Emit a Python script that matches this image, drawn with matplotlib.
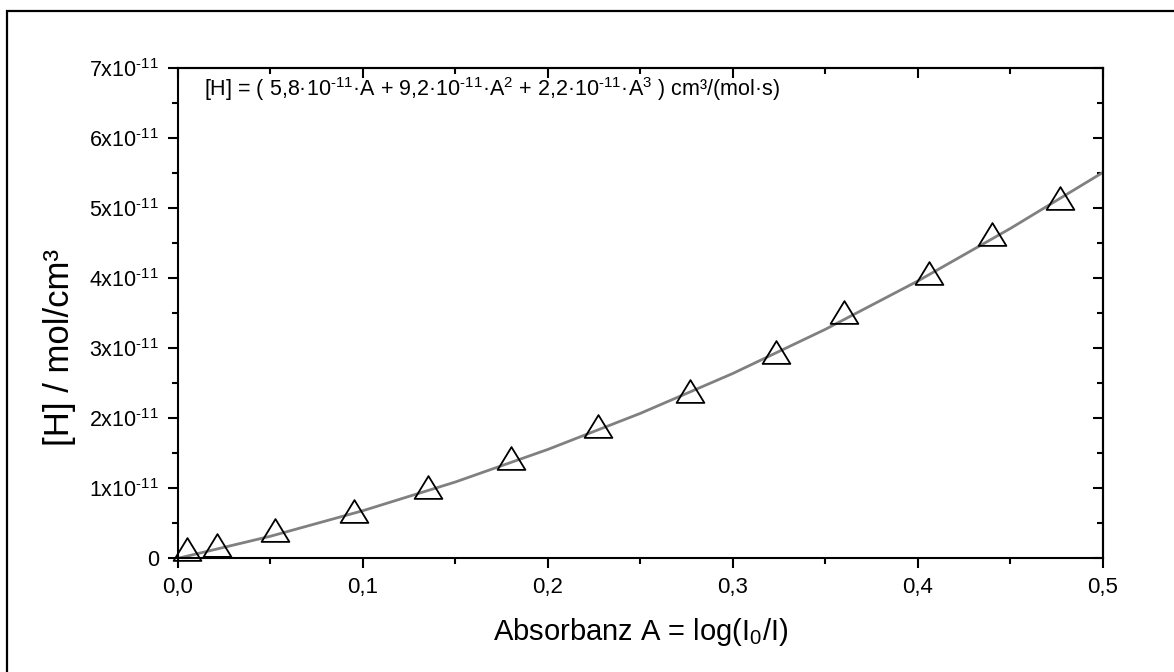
import matplotlib.pyplot as plt
import matplotlib.patches as mpatches
from matplotlib.path import Path
from matplotlib.ticker import FixedLocator, MultipleLocator, FuncFormatter

plt.rcParams['font.family'] = ['Liberation Sans', 'DejaVu Sans']
plt.rcParams['mathtext.fontset'] = 'custom'
plt.rcParams['mathtext.rm'] = 'Liberation Sans'
plt.rcParams['mathtext.it'] = 'Liberation Sans'
plt.rcParams['mathtext.default'] = 'regular'

# Messpunkte (Absorbanz, [H] in 1e-11 mol/cm3)
absorbanz = [0.0047, 0.021, 0.0527, 0.095, 0.135, 0.180, 0.227, 0.277,
             0.323, 0.360, 0.406, 0.440, 0.477]
h_konz = [0.126, 0.194, 0.397, 0.669, 1.02, 1.437, 1.887, 2.387,
          2.943, 3.511, 4.073, 4.626, 5.15]

# Fitkurve
fit_a = [0.0, 0.05, 0.10, 0.15, 0.20, 0.25, 0.30, 0.35, 0.40, 0.45, 0.50]
fit_h = [0.0, 0.315, 0.68, 1.09, 1.555, 2.07, 2.64, 3.27, 3.96, 4.71, 5.51]

skala = 1e-11
y_ticks = [0, 1, 2, 3, 4, 5, 6, 7]
x_ticks = [0.0, 0.1, 0.2, 0.3, 0.4, 0.5]

fig = plt.figure(figsize=(11.74, 6.72), dpi=100)
ax = fig.add_axes([0.1516, 0.1692, 0.7879, 0.7296])

# Rahmen um die ganze Grafik (rechts/unten abgeschnitten)
fig.patches.append(mpatches.Rectangle((7 / 1174, -0.1), 1.2, 1 - 11 / 672 + 0.1,
                                      transform=fig.transFigure, fill=False,
                                      lw=1.6, ec='black', zorder=0))

tri = Path([(0, 0.82), (-1, -0.82), (1, -0.82), (0, 0.82)],
           [Path.MOVETO, Path.LINETO, Path.LINETO, Path.CLOSEPOLY])

ax.plot(fit_a, [h * skala for h in fit_h], color='#808080', lw=2.0, zorder=2)
ax.plot(absorbanz, [h * skala for h in h_konz], ls='none', marker=tri, ms=20,
        mfc='none', mec='black', mew=1.3, zorder=3, clip_on=False)

ax.set_xlim(0, 0.5)
ax.set_ylim(0, 7 * skala)

ax.xaxis.set_major_locator(FixedLocator(x_ticks))
ax.xaxis.set_minor_locator(MultipleLocator(0.05))
ax.xaxis.set_major_formatter(FuncFormatter(lambda v, p: f'{v:.1f}'.replace('.', ',')))
ax.yaxis.set_major_locator(FixedLocator([t * skala for t in y_ticks]))
ax.yaxis.set_minor_locator(MultipleLocator(0.5 * skala))


def y_fmt(v, p):
    n = int(round(v / skala))
    return '0' if n == 0 else f'{n}x10$^{{\\text{{-11}}}}$'


ax.yaxis.set_major_formatter(FuncFormatter(y_fmt))

ax.tick_params(which='both', direction='out', width=1.5)
ax.tick_params(axis='x', labelsize=16)
ax.tick_params(axis='y', labelsize=15.5)
ax.tick_params(which='major', length=7.5, pad=6)
ax.tick_params(which='minor', length=4)
for s in ax.spines.values():
    s.set_linewidth(1.5)

# Ticks oben/rechts nach innen
top = ax.secondary_xaxis('top')
top.xaxis.set_major_locator(FixedLocator(x_ticks))
top.xaxis.set_minor_locator(MultipleLocator(0.05))
top.tick_params(which='both', direction='in', width=1.5, labeltop=False)
top.tick_params(which='major', length=7.5)
top.tick_params(which='minor', length=4)
top.spines['top'].set_linewidth(1.5)
right = ax.secondary_yaxis('right')
right.yaxis.set_major_locator(FixedLocator([t * skala for t in y_ticks]))
right.yaxis.set_minor_locator(MultipleLocator(0.5 * skala))
right.tick_params(which='both', direction='in', width=1.5, labelright=False)
right.tick_params(which='major', length=7.5)
right.tick_params(which='minor', length=4)
right.spines['right'].set_linewidth(1.5)

ax.set_xlabel('Absorbanz A = log(I$_0$/I)', fontsize=21, va='top')
ax.xaxis.set_label_coords(0.5, -0.118)
ax.set_ylabel('[H] / mol/cm³', fontsize=25, va='center')
ax.yaxis.set_label_coords(-0.128, 0.43)

ax.text(0.028, 0.957, '[H] = ( 5,8·10$^{\\text{-11}}$·A + 9,2·10$^{\\text{-11}}$·A$^2$ + 2,2·10$^{\\text{-11}}$·A$^3$ ) cm³/(mol·s)',
        transform=ax.transAxes, fontsize=15.5, va='center', ha='left')

fig.savefig('out.png', dpi=100)
